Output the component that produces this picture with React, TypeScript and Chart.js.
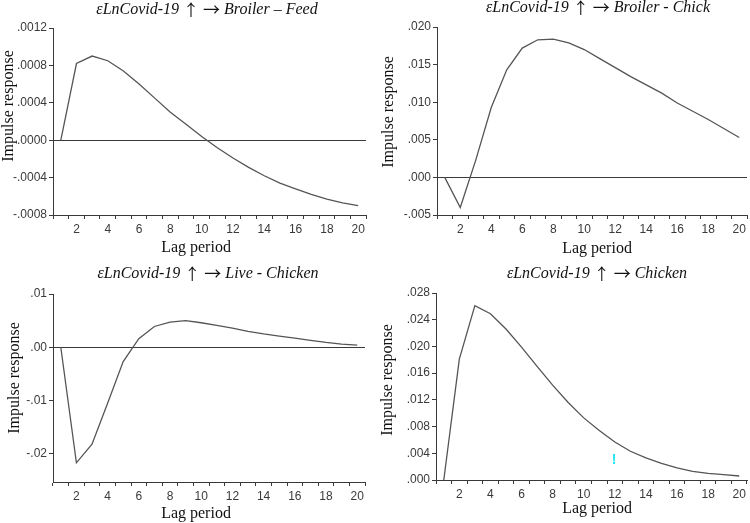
import React, { useEffect, useRef } from "react";
import { Chart, registerables } from "chart.js";

Chart.register(...registerables);

// ---------- data ----------
const lagLabels = ["1", "2", "3", "4", "5", "6", "7", "8", "9", "10", "11", "12", "13", "14", "15", "16", "17", "18", "19", "20"];
const lagTickLabels = ["", "2", "", "4", "", "6", "", "8", "", "10", "", "12", "", "14", "", "16", "", "18", "", "20"];

const broilerFeed = [0, 0.00082, 0.0009, 0.00085, 0.00074, 0.0006, 0.00045, 0.0003, 0.00017, 0.00004, -0.00008, -0.00019, -0.00029, -0.00038, -0.00046, -0.00052, -0.00058, -0.00063, -0.00067, -0.0007];
const broilerChick = [0, -0.004, 0.0023, 0.0093, 0.0143, 0.0172, 0.0183, 0.0184, 0.0179, 0.017, 0.0158, 0.0146, 0.0134, 0.0123, 0.0112, 0.0099, 0.0088, 0.0077, 0.0065, 0.0053];
const liveChicken = [0, -0.0217, -0.0182, -0.0105, -0.0027, 0.0016, 0.0039, 0.0047, 0.005, 0.0046, 0.0041, 0.0036, 0.003, 0.0025, 0.0021, 0.0017, 0.0013, 0.0009, 0.0006, 0.0004];
const chicken = [0, 0.0181, 0.0261, 0.0249, 0.0226, 0.0199, 0.017, 0.0142, 0.0116, 0.0093, 0.0074, 0.0057, 0.0043, 0.0033, 0.0025, 0.0018, 0.0013, 0.001, 0.0008, 0.0006];

const feedTicks = [0.0012, 0.0008, 0.0004, 0, -0.0004, -0.0008];
const feedTickLabels = [".0012", ".0008", ".0004", ".0000", "-.0004", "-.0008"];
const chickTicks = [0.02, 0.015, 0.01, 0.005, 0, -0.005];
const chickTickLabels = [".020", ".015", ".010", ".005", ".000", "-.005"];
const liveTicks = [0.01, 0, -0.01, -0.02];
const liveTickLabels = [".01", ".00", "-.01", "-.02"];
const chickenTicks = [0.028, 0.024, 0.02, 0.016, 0.012, 0.008, 0.004, 0];
const chickenTickLabels = [".028", ".024", ".020", ".016", ".012", ".008", ".004", ".000"];

const shockName = "εLnCovid-19";
const upArrow = "↑";
const rightArrow = "→";
const responseNames = ["Broiler – Feed", "Broiler - Chick", "Live - Chicken", "Chicken"];
const yTitle = "Impulse response";
const xTitle = "Lag period";

// ---------- layout ----------
type Panel = {
  left: number; top: number; width: number; height: number;
  area: { l: number; t: number; r: number; b: number };
  yMin: number; yMax: number;
  data: number[]; ticks: number[]; tickLabels: string[];
  response: string;
  titlePos: [number, number]; yTitlePos: [number, number]; xTitlePos: [number, number];
  mark?: [number, number];
};

const panels: Panel[] = [
  {
    left: 0, top: 0, width: 375, height: 261,
    area: { l: 53, t: 28, r: 366, b: 215 },
    yMin: -0.0008, yMax: 0.0012,
    data: broilerFeed, ticks: feedTicks, tickLabels: feedTickLabels, response: responseNames[0],
    titlePos: [207, 10], yTitlePos: [9, 106], xTitlePos: [196, 248],
  },
  {
    left: 375, top: 0, width: 375, height: 261,
    area: { l: 62, t: 27, r: 372, b: 215 },
    yMin: -0.005, yMax: 0.02,
    data: broilerChick, ticks: chickTicks, tickLabels: chickTickLabels, response: responseNames[1],
    titlePos: [223, 8], yTitlePos: [13.5, 112], xTitlePos: [222, 249],
  },
  {
    left: 0, top: 261, width: 375, height: 262,
    area: { l: 53, t: 33, r: 365, b: 221 },
    yMin: -0.0253, yMax: 0.01,
    data: liveChicken, ticks: liveTicks, tickLabels: liveTickLabels, response: responseNames[2],
    titlePos: [208, 13], yTitlePos: [15, 117], xTitlePos: [196, 253],
  },
  {
    left: 375, top: 261, width: 375, height: 262,
    area: { l: 61, t: 32, r: 372, b: 219 },
    yMin: 0, yMax: 0.028,
    data: chicken, ticks: chickenTicks, tickLabels: chickenTickLabels, response: responseNames[3],
    titlePos: [222, 13], yTitlePos: [13, 119], xTitlePos: [222, 248],
    mark: [239, 199],
  },
];

const AXIS = "#3a3a3a";
const LINE = "#555555";
const TICKTXT = "#3a3a3a";
const SERIF = '"Liberation Serif", "Times New Roman", serif';
const ARROWFONT = '"Noto Sans CJK SC", "DejaVu Sans", sans-serif';

const textPlugin = {
  id: "panelText",
  afterDraw(chart: any, _args: any, opts: any) {
    const ctx = chart.ctx as CanvasRenderingContext2D;
    ctx.save();
    ctx.fillStyle = "#111";
    ctx.textBaseline = "middle";

    // title, drawn as segments (italic names, upright arrows)
    const segs: { text: string; font: string }[] = [
      { text: shockName + " ", font: `italic 16px ${SERIF}` },
      { text: upArrow, font: `16px ${ARROWFONT}` },
      { text: " ", font: `16px ${SERIF}` },
      { text: rightArrow, font: `17px ${ARROWFONT}` },
      { text: " " + opts.response, font: `italic 16px ${SERIF}` },
    ];
    let total = 0;
    const widths = segs.map((s) => {
      ctx.font = s.font;
      const w = ctx.measureText(s.text).width;
      total += w;
      return w;
    });
    let x = opts.titlePos[0] - total / 2;
    ctx.textAlign = "left";
    segs.forEach((s, i) => {
      ctx.font = s.font;
      ctx.fillText(s.text, x, opts.titlePos[1]);
      x += widths[i];
    });

    ctx.textAlign = "center";
    ctx.font = `16px ${SERIF}`;
    ctx.fillText(xTitle, opts.xTitlePos[0], opts.xTitlePos[1]);
    ctx.save();
    ctx.translate(opts.yTitlePos[0], opts.yTitlePos[1]);
    ctx.rotate(-Math.PI / 2);
    ctx.fillText(yTitle, 0, 0);
    ctx.restore();
    if (opts.mark) {
      ctx.fillStyle = "#19e6f0";
      ctx.font = 'bold 14px "Liberation Sans", Arial, sans-serif';
      ctx.fillText("!", opts.mark[0], opts.mark[1]);
    }
    ctx.restore();
  },
};

function PanelChart({ p }: { p: Panel }) {
  const ref = useRef<HTMLCanvasElement | null>(null);
  useEffect(() => {
    if (!ref.current) return;
    const { area } = p;
    const chart = new Chart(ref.current, {
      type: "line",
      data: {
        labels: lagLabels,
        datasets: [
          {
            data: p.data,
            borderColor: LINE,
            borderWidth: 1.3,
            pointRadius: 0,
            tension: 0,
            fill: false,
          },
        ],
      },
      options: {
        responsive: false,
        animation: false,
        devicePixelRatio: 1,
        layout: { padding: { left: 0, top: area.t, right: p.width - area.r, bottom: 0 } },
        plugins: {
          legend: { display: false },
          tooltip: { enabled: false },
          title: { display: false },
          panelText: { response: p.response, titlePos: p.titlePos, yTitlePos: p.yTitlePos, xTitlePos: p.xTitlePos, mark: p.mark },
        } as any,
        scales: {
          x: {
            type: "category",
            offset: true,
            afterFit: (s: any) => { s.height = p.height - area.b; },
            grid: { offset: true, drawOnChartArea: false, drawTicks: true, tickLength: 4, tickColor: AXIS, color: AXIS },
            border: { display: true, color: AXIS, width: 1 },
            ticks: {
              autoSkip: false,
              maxRotation: 0,
              padding: 3,
              color: TICKTXT,
              font: { family: '"Liberation Sans", Arial, sans-serif', size: 12 },
              callback: (_v: any, i: number) => lagTickLabels[i],
            },
          },
          y: {
            type: "linear",
            min: p.yMin,
            max: p.yMax,
            afterFit: (s: any) => { s.width = area.l; },
            afterBuildTicks: (s: any) => { s.ticks = p.ticks.map((v) => ({ value: v })); },
            grid: {
              drawOnChartArea: true,
              drawTicks: true,
              tickLength: 4,
              tickColor: AXIS,
              color: (c: any) => (c.tick && c.tick.value === 0 ? AXIS : "rgba(0,0,0,0)"),
              lineWidth: 1,
            },
            border: { display: true, color: AXIS, width: 1 },
            ticks: {
              padding: 2,
              color: TICKTXT,
              font: { family: '"Liberation Sans", Arial, sans-serif', size: 12 },
              callback: (_v: any, i: number) => p.tickLabels[i],
            },
          },
        },
      },
      plugins: [textPlugin as any],
    });
    return () => chart.destroy();
  }, [p]);
  return (
    <canvas
      ref={ref}
      width={p.width}
      height={p.height}
      style={{ position: "absolute", left: p.left, top: p.top, width: p.width, height: p.height }}
    />
  );
}

export default function App() {
  return (
    <div style={{ position: "absolute", left: 0, top: 0, width: 750, height: 523, background: "#fff" }}>
      {panels.map((p, i) => (
        <PanelChart key={i} p={p} />
      ))}
    </div>
  );
}
